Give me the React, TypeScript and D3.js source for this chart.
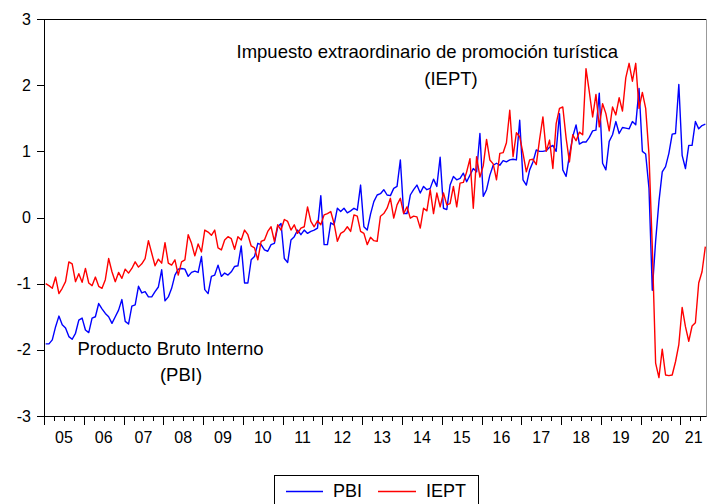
import React from "react";
import * as d3 from "d3";

const years = ["05","06","07","08","09","10","11","12","13","14","15","16","17","18","19","20","21"];
const yTicks = [-3, -2, -1, 0, 1, 2, 3];

// PBI, monthly 2005m1 - 2021m8
const pbi = [
-1.91,-1.91,-1.85,-1.65,-1.49,-1.62,-1.67,-1.80,-1.84,-1.75,-1.55,-1.52,
-1.70,-1.74,-1.52,-1.50,-1.30,-1.38,-1.45,-1.50,-1.60,-1.50,-1.40,-1.24,
-1.57,-1.61,-1.34,-1.32,-1.04,-1.14,-1.12,-1.20,-1.20,-1.12,-1.05,-0.79,
-1.26,-1.20,-1.07,-0.87,-0.78,-0.77,-0.78,-0.89,-0.83,-0.81,-0.83,-0.59,
-1.09,-1.15,-0.89,-0.87,-0.72,-0.89,-0.84,-0.87,-0.82,-0.74,-0.73,-0.43,
-0.99,-0.99,-0.64,-0.59,-0.39,-0.41,-0.49,-0.51,-0.41,-0.39,-0.14,-0.09,
-0.62,-0.68,-0.34,-0.29,-0.19,-0.26,-0.19,-0.24,-0.21,-0.19,-0.16,0.33,
-0.41,-0.41,-0.08,-0.11,0.14,0.09,0.14,0.07,0.10,0.14,0.11,0.49,
-0.14,-0.19,0.05,0.24,0.34,0.36,0.42,0.34,0.33,0.44,0.47,0.87,
0.06,0.06,0.34,0.42,0.49,0.37,0.47,0.42,0.44,0.58,0.47,0.91,
0.14,0.12,0.49,0.62,0.57,0.59,0.67,0.54,0.64,0.74,0.69,1.27,
0.32,0.42,0.64,0.79,0.82,0.79,0.86,0.84,0.87,0.88,0.87,1.47,
0.57,0.49,0.72,0.84,1.02,1.00,1.00,1.01,1.06,1.09,1.00,1.57,
0.72,0.62,0.94,1.22,1.40,1.11,1.14,1.14,1.21,1.31,1.32,1.88,
0.82,0.72,1.15,1.25,1.45,1.27,1.36,1.35,1.34,1.45,1.40,1.95,
1.00,0.96,0.44,-1.10,-0.36,0.24,0.69,0.77,0.97,1.26,1.27,2.01,
0.94,0.74,1.09,1.09,1.45,1.34,1.39,1.41
];

// IEPT, monthly 2005m1 - 2021m8
const iept = [
-1.00,-1.03,-1.07,-0.90,-1.15,-1.07,-0.97,-0.67,-0.70,-0.97,-0.85,-0.98,
-0.77,-0.99,-1.03,-0.90,-1.04,-1.07,-0.94,-0.62,-0.82,-0.97,-0.83,-0.92,
-0.78,-0.84,-0.77,-0.67,-0.75,-0.70,-0.62,-0.35,-0.54,-0.73,-0.63,-0.69,
-0.38,-0.69,-0.72,-0.64,-0.87,-0.67,-0.64,-0.26,-0.39,-0.58,-0.40,-0.52,
-0.19,-0.22,-0.27,-0.19,-0.46,-0.49,-0.34,-0.29,-0.32,-0.48,-0.29,-0.34,
-0.19,-0.26,-0.43,-0.46,-0.64,-0.36,-0.34,-0.21,-0.14,-0.36,-0.11,-0.19,
-0.03,-0.06,-0.19,-0.11,-0.24,-0.16,-0.14,0.16,-0.06,-0.14,-0.05,-0.11,
0.04,0.06,0.09,-0.09,-0.36,-0.24,-0.21,-0.14,-0.21,0.04,0.02,-0.21,
-0.24,-0.41,-0.30,-0.35,-0.36,0.02,0.06,0.14,0.29,-0.01,0.19,0.29,
0.06,0.16,-0.01,0.02,0.01,-0.16,0.14,0.10,0.42,0.06,0.37,0.16,
0.37,0.19,0.21,0.47,0.16,0.52,0.53,0.69,0.89,0.14,0.92,0.61,
0.78,1.18,0.87,0.81,0.57,0.97,0.98,1.13,1.62,0.92,1.28,1.22,
0.97,0.69,0.87,0.88,0.80,1.18,1.52,1.00,1.17,0.74,1.42,1.65,
1.67,1.20,0.84,1.25,1.16,1.29,1.25,2.25,1.90,1.52,1.86,1.37,
1.72,1.57,1.31,1.67,1.55,1.81,1.61,2.11,2.33,2.06,2.33,1.65,
1.89,1.65,0.95,-0.45,-2.20,-2.42,-1.99,-2.38,-2.39,-2.38,-2.18,-1.92,
-1.36,-1.65,-1.87,-1.64,-1.59,-0.99,-0.82,-0.44
];

const seriesNames = ["PBI", "IEPT"];
const seriesColors = ["#0000FF", "#FF0000"];

export default function App() {
  const W = 707, H = 504;
  const left = 44, right = 707, top = 19, bottom = 416;
  const n = pbi.length;
  const x = d3.scaleLinear().domain([0, n]).range([left, right]);
  const y = d3.scaleLinear().domain([-3, 3]).range([bottom, top]);
  const line = d3.line<number>().x((_, i) => x(i + 0.5)).y((d) => y(d));
  const font = "'Liberation Sans', Arial, sans-serif";

  const minorTicks: number[] = [];
  for (let m = 3; m < n; m += 3) if (m % 12 !== 0) minorTicks.push(m);
  const majorTicks: number[] = [];
  for (let m = 0; m < n; m += 12) majorTicks.push(m);

  return (
    <svg width={W} height={H} style={{ position: "absolute", left: 0, top: 0, background: "#fff" }}>
      <rect x={0} y={0} width={W} height={H} fill="#fff" />
      {/* frame */}
      <line x1={left + 0.5} x2={left + 0.5} y1={top} y2={bottom + 0.5} stroke="#000" />
      <line x1={left} x2={right} y1={top + 0.5} y2={top + 0.5} stroke="#000" />
      <line x1={left} x2={right} y1={bottom + 0.5} y2={bottom + 0.5} stroke="#000" />
      <line x1={right - 0.5} x2={right - 0.5} y1={top} y2={bottom + 0.5} stroke="#999" />
      {/* y ticks */}
      {yTicks.map((t) => (
        <g key={t}>
          <line x1={37} x2={left} y1={Math.round(y(t)) + 0.5} y2={Math.round(y(t)) + 0.5} stroke="#000" />
          <text x={31} y={y(t) + 5.5} textAnchor="end" fontFamily={font} fontSize={16} fill="#000">{t}</text>
        </g>
      ))}
      {/* x ticks */}
      {majorTicks.map((m) => (
        <line key={"M" + m} x1={Math.round(x(m)) + 0.5} x2={Math.round(x(m)) + 0.5} y1={bottom} y2={bottom + 9} stroke="#000" />
      ))}
      {minorTicks.map((m) => (
        <line key={"m" + m} x1={Math.round(x(m)) + 0.5} x2={Math.round(x(m)) + 0.5} y1={bottom} y2={bottom + 5} stroke="#000" />
      ))}
      {years.map((lab, k) => {
        const a = x(12 * k);
        const b = Math.min(x(12 * k + 12), right);
        return (
          <text key={lab} x={(a + b) / 2} y={443} textAnchor="middle" fontFamily={font} fontSize={16} fill="#000">{lab}</text>
        );
      })}
      {/* series */}
      <path d={line(pbi) || ""} fill="none" stroke={seriesColors[0]} strokeWidth={1.4} strokeLinejoin="round" />
      <path d={line(iept) || ""} fill="none" stroke={seriesColors[1]} strokeWidth={1.4} strokeLinejoin="round" />
      {/* annotations */}
      <text x={236.5} y={58} fontFamily={font} fontSize={18.5} fill="#000">Impuesto extraordinario de promoción turística</text>
      <text x={451} y={85} textAnchor="middle" fontFamily={font} fontSize={18.5} fill="#000">(IEPT)</text>
      <text x={77.5} y={355} fontFamily={font} fontSize={18.5} fill="#000">Producto Bruto Interno</text>
      <text x={181} y={381} textAnchor="middle" fontFamily={font} fontSize={18.5} fill="#000">(PBI)</text>
      {/* legend */}
      <rect x={274.5} y={475.5} width={204} height={40} fill="#fff" stroke="#000" />
      <line x1={286} x2={323} y1={491.5} y2={491.5} stroke={seriesColors[0]} strokeWidth={1.4} />
      <text x={333} y={497} fontFamily={font} fontSize={18} fill="#000">{seriesNames[0]}</text>
      <line x1={378} x2={416} y1={491.5} y2={491.5} stroke={seriesColors[1]} strokeWidth={1.4} />
      <text x={426} y={497} fontFamily={font} fontSize={18} fill="#000">{seriesNames[1]}</text>
    </svg>
  );
}
